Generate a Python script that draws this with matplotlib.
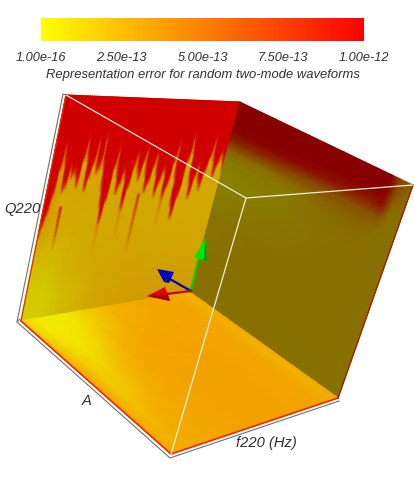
import numpy as np
import matplotlib
matplotlib.use('Agg')
import matplotlib.pyplot as plt
from matplotlib.cm import ScalarMappable
from matplotlib.colors import LinearSegmentedColormap, Normalize

plt.rcParams['font.family'] = ['Liberation Sans', 'DejaVu Sans']

# colour bar
bar_ticks = [1e-16, 2.5e-13, 5e-13, 7.5e-13, 1e-12]
bar_labels = ['1.00e-16', '2.50e-13', '5.00e-13', '7.50e-13', '1.00e-12']
bar_title = 'Representation error for random two-mode waveforms'

# left wall (Q220 - f220 plane), errors in units of 1e-12
wall_u = [0, 0.1, 0.2, 0.4, 0.6, 0.8, 1]
wall_v = [0, 0.4, 0.6, 0.8, 0.9, 1]
wall_error = [
    [0.35, 0.20, 0.20, 0.20, 0.20, 0.20, 0.20],
    [0.35, 0.20, 0.20, 0.20, 0.20, 0.20, 0.20],
    [0.25, 0.17, 0.19, 0.20, 0.20, 0.20, 0.20],
    [0.08, 0.08, 0.15, 0.21, 0.22, 0.22, 0.22],
    [0.03, 0.03, 0.10, 0.20, 0.24, 0.25, 0.25],
    [0.00, 0.02, 0.10, 0.20, 0.25, 0.26, 0.26],
]
# how far down the wall the red region reaches, one value per column
red_depth = [0.60, 0.55, 0.50, 0.42, 0.30, 0.20, 0.28, 0.40, 0.38, 0.30,
             0.34, 0.32, 0.34, 0.38, 0.26, 0.17, 0.26, 0.40, 0.34, 0.28,
             0.18, 0.32, 0.30, 0.16, 0.30, 0.40, 0.48, 0.56, 0.46, 0.30,
             0.22, 0.34, 0.42, 0.38, 0.32, 0.36, 0.50, 0.40, 0.30, 0.24,
             0.32, 0.36, 0.28, 0.22, 0.34, 0.42, 0.38, 0.30, 0.24, 0.34,
             0.44, 0.38, 0.32, 0.34, 0.46, 0.40, 0.28, 0.20, 0.36, 0.50,
             0.56, 0.46, 0.28, 0.16, 0.24, 0.38, 0.46, 0.36, 0.30, 0.38,
             0.42, 0.34, 0.26, 0.17, 0.28, 0.36, 0.30, 0.24, 0.28, 0.34]
# separate thin streaks under the red region
lone_col = [8, 43, 27, 36, 54]
lone_top = [0.50, 0.46, 0.55, 0.50, 0.48]
lone_bottom = [0.70, 0.76, 0.72, 0.68, 0.66]
lone_strength = [0.42, 0.30, 0.12, 0.10, 0.10]

# right wall (Q220 - A plane)
side_u = [0, 0.2, 0.4, 0.6, 0.8, 0.88, 0.93, 1]
side_v = [0, 0.05, 0.1, 0.15, 0.2, 0.25, 0.3, 0.4, 0.6, 0.8, 1]
side_error = [
    [1.00, 1.00, 1.00, 1.00, 1.00, 1.00, 0.50, 0.30],
    [1.00, 1.00, 1.00, 1.00, 1.00, 1.00, 0.45, 0.20],
    [1.00, 1.00, 1.00, 1.00, 1.00, 0.95, 0.35, 0.20],
    [0.95, 0.95, 0.92, 0.85, 0.75, 0.85, 0.22, 0.18],
    [0.75, 0.65, 0.50, 0.42, 0.40, 0.40, 0.18, 0.18],
    [0.30, 0.20, 0.22, 0.28, 0.30, 0.22, 0.18, 0.18],
    [0.10, 0.10, 0.12, 0.20, 0.22, 0.18, 0.18, 0.18],
    [0.05, 0.07, 0.12, 0.17, 0.18, 0.18, 0.18, 0.18],
    [0.15, 0.17, 0.18, 0.18, 0.18, 0.18, 0.18, 0.18],
    [0.18, 0.18, 0.18, 0.18, 0.18, 0.18, 0.18, 0.18],
    [0.18, 0.18, 0.18, 0.18, 0.18, 0.18, 0.18, 0.18],
]

# floor (A - f220 plane)
floor_u = [0, 0.03, 0.08, 0.15, 0.25, 0.35, 0.5, 0.7, 0.9, 0.97, 1]
floor_v = [0, 0.1, 0.25, 0.4, 0.55, 0.7, 0.85, 1]
floor_error = [
    [0.12, 0.10, 0.05, 0.03, 0.04, 0.12, 0.25, 0.31, 0.32, 0.27, 0.30],
    [0.20, 0.12, 0.05, 0.03, 0.06, 0.16, 0.27, 0.31, 0.32, 0.27, 0.30],
    [0.26, 0.20, 0.12, 0.07, 0.14, 0.25, 0.31, 0.32, 0.32, 0.27, 0.30],
    [0.29, 0.25, 0.17, 0.14, 0.24, 0.30, 0.32, 0.33, 0.32, 0.27, 0.30],
    [0.30, 0.27, 0.18, 0.20, 0.28, 0.31, 0.33, 0.33, 0.32, 0.26, 0.30],
    [0.30, 0.27, 0.22, 0.27, 0.30, 0.32, 0.33, 0.33, 0.32, 0.26, 0.30],
    [0.30, 0.27, 0.26, 0.29, 0.30, 0.32, 0.33, 0.33, 0.32, 0.27, 0.30],
    [0.32, 0.30, 0.29, 0.30, 0.31, 0.32, 0.33, 0.33, 0.32, 0.28, 0.30],
]

# cube corners on screen
A = (66, 96)
B = (240, 103)
C = (190, 293)
D = (21, 322)
E = (413, 186)
F = (338, 399)
G = (171, 455)
H = (246, 199)


def face(tl, tr, br, bl, u, v):
    uu, vv = np.meshgrid(u, v)
    x = (1 - vv) * ((1 - uu) * tl[0] + uu * tr[0]) + vv * ((1 - uu) * bl[0] + uu * br[0])
    y = (1 - vv) * ((1 - uu) * tl[1] + uu * tr[1]) + vv * ((1 - uu) * bl[1] + uu * br[1])
    return x, y


def lit_map(shade):
    return LinearSegmentedColormap.from_list('lit', [(shade, shade, 0), (shade, 0, 0)])


fig = plt.figure(figsize=(4.15, 4.89), dpi=100)
ax = fig.add_axes([0, 0, 1, 1])
ax.set_xlim(0, 415)
ax.set_ylim(489, 0)
ax.axis('off')

norm = Normalize(0, 1)

x, y = face(A, B, C, D, wall_u, wall_v)
ax.pcolormesh(x, y, np.array(wall_error), shading='gouraud', cmap=lit_map(0.82), norm=norm)

# red streaks go on top of the wall as a see-through layer
cols = np.linspace(0, 1, len(red_depth))
rows = np.linspace(0, 1, 100)
depth = np.array(red_depth)
red_alpha = np.clip((depth[None, :] - rows[:, None]) / 0.09 + 0.5, 0, 1)
# lone streaks fade out going down the wall
for c, t, b, s in zip(lone_col, lone_top, lone_bottom, lone_strength):
    inside = (rows > t) & (rows < b)
    fade = s * (b - rows[inside]) / (b - t)
    red_alpha[inside, c] = np.maximum(red_alpha[inside, c], fade)
red_layer = LinearSegmentedColormap.from_list('red_layer', [(0.82, 0, 0, 0), (0.82, 0, 0, 1)])
x, y = face(A, B, C, D, cols, rows)
ax.pcolormesh(x, y, red_alpha, shading='gouraud', cmap=red_layer, norm=norm)

x, y = face(B, E, F, C, side_u, side_v)
ax.pcolormesh(x, y, np.array(side_error), shading='gouraud', cmap=lit_map(0.535), norm=norm)

x, y = face(D, C, F, G, floor_u, floor_v)
ax.pcolormesh(x, y, np.array(floor_error), shading='gouraud', cmap=lit_map(0.95), norm=norm)

# bright edges of the surfaces
ax.plot([D[0], G[0], F[0]], [D[1], G[1], F[1]], color='#ff2000', lw=1.2, solid_joinstyle='miter')
ax.plot([E[0], F[0]], [E[1], F[1]], color='#a02000', lw=1.0)
ax.plot([A[0], D[0]], [A[1], D[1]], color='#e03000', lw=0.9)

# bounding box, front lines
ax.plot([A[0], H[0], E[0]], [A[1], H[1], E[1]], color='#eeeed8', lw=0.9)
ax.plot([H[0], G[0]], [H[1], G[1]], color='#eeeed8', lw=0.9)

# bounding box, outer grey lines
ax.plot([63, 17, 170, 339], [95, 323, 459, 402], color='#707070', lw=0.8, solid_joinstyle='miter')
ax.plot([63, 66], [95, 95], color='#707070', lw=0.7)
ax.plot([17, 20], [323, 320], color='#707070', lw=0.7)

# orientation arrows
ax.plot([191, 198], [292, 262], color='#00d000', lw=1.6)
ax.fill([194, 206, 207], [258, 239, 263], color='#00e800', lw=0)
ax.fill([203, 206, 207], [261, 239, 263], color='#009a20', lw=0)
ax.plot([191, 168], [292, 279], color='#0000c0', lw=1.6)
ax.fill([157, 164, 174], [270, 283, 273], color='#0000c8', lw=0)
ax.fill([164, 174, 169], [283, 273, 284], color='#000090', lw=0)
ax.plot([191, 166], [292, 295], color='#b01010', lw=1.6)
ax.fill([147, 165, 170], [297, 288, 302], color='#e00000', lw=0)
ax.fill([147, 168, 170], [297, 296, 302], color='#a00000', lw=0)

txt = '#303030'
ax.text(22, 209, 'Q220', style='italic', fontsize=10.6, color=txt, ha='center', va='center')
ax.text(87, 401, 'A', style='italic', fontsize=10.6, color=txt, ha='center', va='center')
ax.text(266, 443, 'f220 (Hz)', style='italic', fontsize=10.6, color=txt, ha='center', va='center')

# colour bar
cax = fig.add_axes([41 / 415, 1 - 42 / 489, 323 / 415, 23 / 489])
bar_map = LinearSegmentedColormap.from_list('bar', ['#ffff00', '#ff0000'])
cb = fig.colorbar(ScalarMappable(Normalize(1e-16, 1e-12), bar_map), cax=cax, orientation='horizontal')
cb.outline.set_visible(False)
cb.set_ticks(bar_ticks)
cb.set_ticklabels(bar_labels, style='italic', fontsize=9.2, color=txt)
cb.ax.tick_params(length=0, pad=7)
cb.set_label(bar_title, style='italic', fontsize=9.4, color=txt, labelpad=4)

fig.savefig('out.png', dpi=100)
